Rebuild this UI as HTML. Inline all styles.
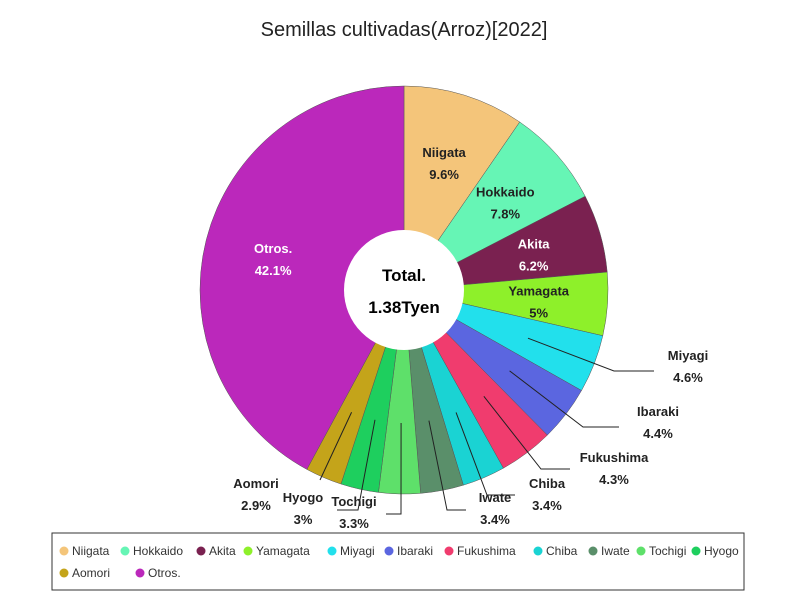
<!DOCTYPE html>
<html><head><meta charset="utf-8"><style>
body{margin:0;background:#fff;font-family:"Liberation Sans","DejaVu Sans",sans-serif}
svg text{font-family:"Liberation Sans","DejaVu Sans",sans-serif}
</style></head><body>
<svg id="c" width="800" height="600">
<rect width="800" height="600" fill="#fff"/>
<text x="404" y="36" text-anchor="middle" font-size="20" fill="#222">Semillas cultivadas(Arroz)[2022]</text>
<g id="slices"></g><g id="lab"></g>
<circle cx="404" cy="290" r="60" fill="#fff"/>
<text x="404" y="281" text-anchor="middle" font-size="17" font-weight="bold">Total.</text>
<text x="404" y="313" text-anchor="middle" font-size="17" font-weight="bold">1.38Tyen</text>
<rect x="52" y="533" width="692" height="57" fill="#fff" stroke="#333"/>
<g id="leg"></g>
</svg>
<script>
const categories=["Niigata","Hokkaido","Akita","Yamagata","Miyagi","Ibaraki","Fukushima","Chiba","Iwate","Tochigi","Hyogo","Aomori","Otros."];
const values=[9.6,7.8,6.2,5,4.6,4.4,4.3,3.4,3.4,3.3,3,2.9,42.1];
const valueLabels=["9.6%","7.8%","6.2%","5%","4.6%","4.4%","4.3%","3.4%","3.4%","3.3%","3%","2.9%","42.1%"];
const colors=["#f4c57a","#66f5b5","#7a2150","#8ef02a","#22e0ec","#5b66e0","#f03c6e","#1ad3d3","#5a8f6a","#5ee06a","#1ecf5e","#c4a41a","#bb28bb"];
// layout for outside labels: [elbowX, elbowY, tailX, textX, textY] (null = inside)
const outside=[null,null,null,null,[614,371,654,688,360],[583,427,619,658,416],[541,469,570,614,462],[487,495,515,547,488],[447,510,466,495,502],[401,514,386,354,506],[358,510,337,303,502],[320,480,320,256,488],null];
const NS="http://www.w3.org/2000/svg",cx=404,cy=290,R=204;
const S=document.getElementById('slices'),L=document.getElementById('lab'),G=document.getElementById('leg');
const tot=values.reduce((a,b)=>a+b,0);
function pt(a,r){return [cx+r*Math.sin(a),cy-r*Math.cos(a)];}
function mk(t,p,at){const e=document.createElementNS(NS,t);for(const k in at)e.setAttribute(k,at[k]);p.appendChild(e);return e;}
let a0=0;
values.forEach((v,i)=>{
 const a1=a0+v/tot*2*Math.PI;const [x0,y0]=pt(a0,R),[x1,y1]=pt(a1,R);
 const p=mk('path',S,{d:`M${cx},${cy}L${x0},${y0}A${R},${R} 0 ${a1-a0>Math.PI?1:0} 1 ${x1},${y1}Z`,fill:colors[i],stroke:'#555','stroke-width':0.5});
 
 
 const am=(a0+a1)/2;const o=outside[i];
 const g=mk('g',L,{});
 
 
 if(!o){const [tx,ty]=pt(am,135);const col=(i==2||i==12)?'#fff':'#222';
  const t1=mk('text',g,{x:tx,y:ty-4,'text-anchor':'middle','font-size':13,'font-weight':'bold',fill:col});t1.textContent=categories[i];
  const t2=mk('text',g,{x:tx,y:ty+18,'text-anchor':'middle','font-size':13,'font-weight':'bold',fill:col});t2.textContent=valueLabels[i];}
 else{const [sx,sy]=pt(am,133);
  mk('polyline',g,{points:`${sx},${sy} ${o[0]},${o[1]} ${o[2]},${o[1]}`,fill:'none',stroke:'#222','stroke-width':1});
  const t1=mk('text',g,{x:o[3],y:o[4],'text-anchor':'middle','font-size':13,'font-weight':'bold',fill:'#222'});t1.textContent=categories[i];
  const t2=mk('text',g,{x:o[3],y:o[4]+22,'text-anchor':'middle','font-size':13,'font-weight':'bold',fill:'#222'});t2.textContent=valueLabels[i];}
 a0=a1;});
const lx=[64,125,201,248,332,389,449,538,593,641,696,64,140];
categories.forEach((c,i)=>{const y=i<11?551:573;
 const g=mk('g',G,{});
 
 
 mk('circle',g,{cx:lx[i],cy:y,r:4.5,fill:colors[i]});
 const t=mk('text',g,{x:lx[i]+8,y:y+4,'font-size':12,fill:'#333'});t.textContent=c;});
</script>
</body></html>
